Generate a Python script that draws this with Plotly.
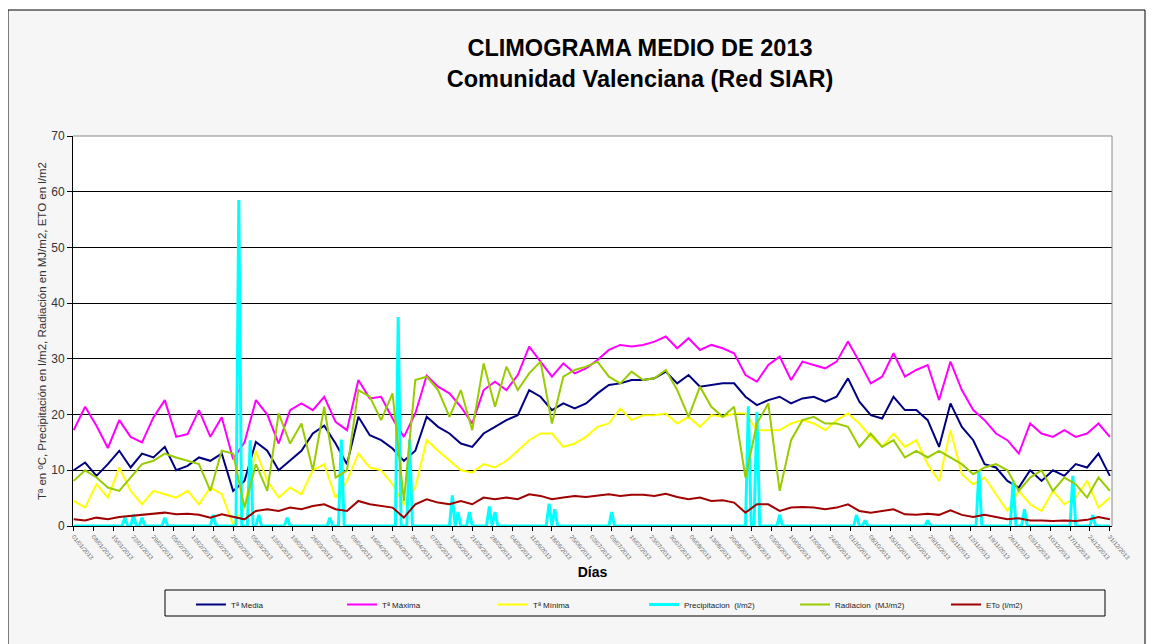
import pandas as pd
import plotly.graph_objects as go

# values read every 4 days (1 Jan -> 31 Dec 2013)
T_MEDIA = [10, 11.4, 9, 11.1, 13.5, 10.5, 13, 12.3, 14.2, 10, 10.8, 12.3, 11.7, 13, 6.3, 8.1,
           15.1, 13.5, 10, 11.7, 13.5, 16.6, 18, 14.8, 11.1, 19.6, 16.3, 15.4, 13.9, 11.7, 13.5,
           19.6, 17.8, 16.6, 14.8, 14.2, 16.6, 17.8, 19, 19.9, 24.4, 23.2, 20.8, 22, 21.1, 22,
           23.8, 25.3, 25.6, 26.2, 26.2, 26.5, 27.7, 25.6, 27.1, 25, 25.3, 25.6, 25.6, 23.2, 21.7,
           22.6, 23.2, 22, 22.9, 23.2, 22.3, 23.2, 26.5, 22.3, 19.9, 19.3, 23.2, 20.8, 20.8, 19,
           14.2, 22, 17.8, 15.4, 11.1, 10.5, 8.1, 6.9, 10, 8.1, 10, 9, 11.1, 10.5, 13, 9]
T_MAXIMA = [17.2, 21.4, 18, 14, 19, 16, 15, 19.5, 22.6, 16, 16.5, 20.8, 16, 19.5, 12, 15,
            22.6, 20, 14.8, 20.8, 22, 20.8, 23.2, 18.7, 17.2, 26.2, 22.9, 23.2, 19.3, 16, 20.2,
            27, 25, 23.8, 21.4, 18.4, 24.4, 25.9, 24.4, 27.1, 32.2, 29.5, 26.8, 29.2, 27.4, 28.3,
            29.8, 31.6, 32.5, 32.2, 32.5, 33.1, 34, 31.9, 33.7, 31.6, 32.5, 31.9, 31, 27.1, 25.9,
            28.9, 30.4, 26.2, 29.5, 28.9, 28.3, 29.5, 33.1, 29.5, 25.6, 26.8, 31, 26.8, 28, 28.9,
            22.6, 29.5, 24.4, 20.8, 19, 16.6, 15.4, 13, 18.4, 16.6, 16, 17.2, 16, 16.6, 18.4, 16]
T_MINIMA = [4.5, 3.3, 7.5, 5.1, 10.5, 6.3, 3.9, 6.3, 5.7, 5.1, 6.3, 3.9, 6.9, 5.7, 0.3, 3.3,
            13.5, 8.1, 5.1, 6.9, 5.7, 10, 11.1, 5.1, 8.1, 13, 10.5, 10, 7.5, 3.9, 6.9,
            15.4, 13.5, 11.7, 10, 9.6, 11.1, 10.5, 11.7, 13.5, 15.4, 16.6, 16.6, 14.2, 14.8, 16,
            17.8, 18.4, 21.1, 19, 19.9, 19.9, 20.2, 18.4, 19.6, 17.8, 19.9, 19.6, 20.2, 20.2, 17.2,
            17.2, 17.2, 18.4, 19, 18.4, 17.2, 19, 20.2, 18.4, 16, 14.2, 16.6, 14.2, 15.4, 11.1,
            8.1, 17.2, 9.3, 7.5, 8.7, 5.7, 2.7, 6.3, 3.9, 2.7, 6.3, 3.9, 5.1, 8.1, 3.3, 5.1]
RADIACION = [8.1, 10, 8.7, 6.9, 6.3, 8.7, 11.1, 11.7, 13, 12.3, 11.7, 11.1, 6.3, 13.5, 13, 3.3,
             11.1, 6.3, 20.2, 14.8, 18.4, 10, 21.4, 8.7, 10, 24.4, 23.2, 19, 23.8, 4.5, 26.2,
             26.8, 24.4, 19.6, 24.4, 17.2, 29.2, 21.4, 28.6, 24.4, 27.4, 29.5, 18.4, 26.8, 28, 28.6,
             29.5, 26.8, 25.6, 27.7, 26.2, 26.5, 28, 24.4, 19.6, 25, 21.4, 19.6, 21.4, 8.7, 18.4,
             22, 6.3, 15.4, 19, 19.6, 18.4, 18.4, 17.8, 14.2, 16.6, 14.2, 15.4, 12.3, 13.5, 12.3,
             13.5, 12.3, 11.1, 9.3, 10.5, 11.1, 10, 6.3, 8.7, 10, 6.3, 8.7, 7.5, 5.1, 8.7, 6.3]
ETO = [1.2, 1, 1.5, 1.2, 1.6, 1.8, 2, 2.2, 2.4, 2.1, 2.2, 2, 1.5, 2.1, 1.6, 1.2,
       2.7, 3, 2.7, 3.3, 3, 3.6, 3.9, 3, 2.7, 4.5, 3.9, 3.6, 3.3, 1.5, 3.9,
       4.8, 4.2, 3.9, 4.5, 3.9, 5.1, 4.8, 5.1, 4.8, 5.7, 5.4, 4.8, 5.1, 5.4, 5.2,
       5.4, 5.7, 5.4, 5.6, 5.6, 5.4, 5.8, 5.2, 4.8, 5.1, 4.5, 4.6, 4.2, 2.4, 3.9,
       3.9, 2.7, 3.3, 3.4, 3.3, 3, 3.3, 3.9, 2.7, 2.4, 2.7, 3, 2.1, 2, 2.2,
       2, 2.8, 2, 1.6, 2, 1.6, 1.2, 1.4, 1, 1, 0.9, 1, 0.9, 1.1, 1.6, 1.2]

# rain days (day of year, 0 = 1 Jan) and l/m2; every other day is dry
PRECIP_DAYS = [18, 21, 24, 32, 49, 58, 62, 65, 75, 90, 94, 114, 118, 133, 135, 139, 146, 148,
               167, 169, 189, 237, 240, 248, 275, 278, 300, 318, 330, 334, 351, 358]
PRECIP_VALS = [1.5, 2, 1.5, 1.5, 2, 58.5, 15.4, 2, 1.5, 1.5, 15.5, 37.5, 15.5, 5.5, 2.5, 2.5,
               3.5, 2.5, 4, 3, 2.5, 21.5, 20.5, 2, 2, 1, 1, 10, 8, 3, 9, 2]

SERIES = [
    ("Tª Media", T_MEDIA, "#000080"),
    ("Tª Máxima", T_MAXIMA, "#FF00FF"),
    ("Tª Mínima", T_MINIMA, "#FFFF00"),
    ("Precipitacion  (l/m2)", None, "#00FFFF"),
    ("Radiacion  (MJ/m2)", RADIACION, "#99CC00"),
    ("ETo (l/m2)", ETO, "#A00000"),
]

sample_dates = pd.date_range("2013-01-01", periods=len(T_MEDIA), freq="4D")
all_days = pd.date_range("2013-01-01", "2013-12-31", freq="D")
precip = pd.Series(0.0, index=range(len(all_days)))
precip[PRECIP_DAYS] = PRECIP_VALS

W, H = 1155, 644
OFF = 8  # the page body margin shifts the figure by 8px
L, R, T, B = 73 - OFF, 1112 - OFF, 136 - OFF, 526 - OFF  # plot area, figure pixels


def px_x(p):
    return (p - OFF - L) / (R - L)


def px_y(p):
    return (B - (p - OFF)) / (B - T)


fig = go.Figure()
for name, vals, col in SERIES:
    if vals is None:
        fig.add_trace(go.Scatter(x=all_days, y=precip.values, name=name, mode="lines",
                                 line=dict(color=col, width=3)))
    else:
        fig.add_trace(go.Scatter(x=sample_dates, y=vals, name=name, mode="lines",
                                 line=dict(color=col, width=2)))

fig.update_layout(
    width=W, height=H,
    margin=dict(l=L, r=W - R, t=T, b=H - B, autoexpand=False),
    paper_bgcolor="white", plot_bgcolor="white",
    font=dict(family="Liberation Sans, Arial, sans-serif", color="#333"),
    title=dict(text="<b>CLIMOGRAMA MEDIO DE 2013<br>Comunidad Valenciana (Red SIAR)</b>",
               x=(640 - OFF) / W, xanchor="center", y=1 - (56 - OFF) / H, yanchor="top",
               font=dict(size=23.5, color="black")),
    showlegend=True,
    legend=dict(orientation="h", x=px_x(191), y=px_y(590), xanchor="left", yanchor="top",
                bgcolor="rgba(0,0,0,0)", font=dict(size=8, color="#222"),
                entrywidth=106, entrywidthmode="pixels", itemclick=False),
)
fig.update_xaxes(
    range=["2012-12-31 18:00", "2013-12-31 18:00"],
    tick0="2013-01-01", dtick=7 * 86400000, tickformat="%d/%m/%Y",
    tickangle=50, tickfont=dict(size=6, color="#666"),
    ticks="outside", ticklen=4, tickcolor="black",
    showgrid=False, showline=True, linecolor="black",
    title=dict(text="<b>Días</b>", font=dict(size=14, color="black"), standoff=6),
)
fig.update_yaxes(
    range=[0, 70], dtick=10, tickfont=dict(size=12, color="#333"),
    ticks="outside", ticklen=5, tickcolor="black",
    showgrid=True, gridcolor="black", gridwidth=1,
    showline=True, linecolor="black", zeroline=False,
    title=dict(text="Tª en ºC, Precipitación en l/m2, Radiación en MJ/m2, ETO en l/m2",
               font=dict(size=11.5, color="#333"), standoff=2),
)
# chart frame and grey top/right border of the plot area
fig.add_shape(type="rect", xref="paper", yref="paper", layer="below",
              x0=px_x(8), x1=px_x(1145), y0=px_y(680), y1=px_y(10),
              line=dict(color="black", width=1), fillcolor="#f6f6f6")
fig.add_shape(type="rect", xref="paper", yref="paper", layer="below",
              x0=0, x1=1, y0=0, y1=1, line=dict(width=0), fillcolor="white")
fig.add_shape(type="path", xref="paper", yref="paper", path="M 0,1 L 1,1 L 1,0",
              line=dict(color="#888", width=1))
# legend box
fig.add_shape(type="rect", xref="paper", yref="paper",
              x0=px_x(165), x1=px_x(1105), y0=px_y(616), y1=px_y(590),
              line=dict(color="black", width=1))

fig.write_html("out.html")
